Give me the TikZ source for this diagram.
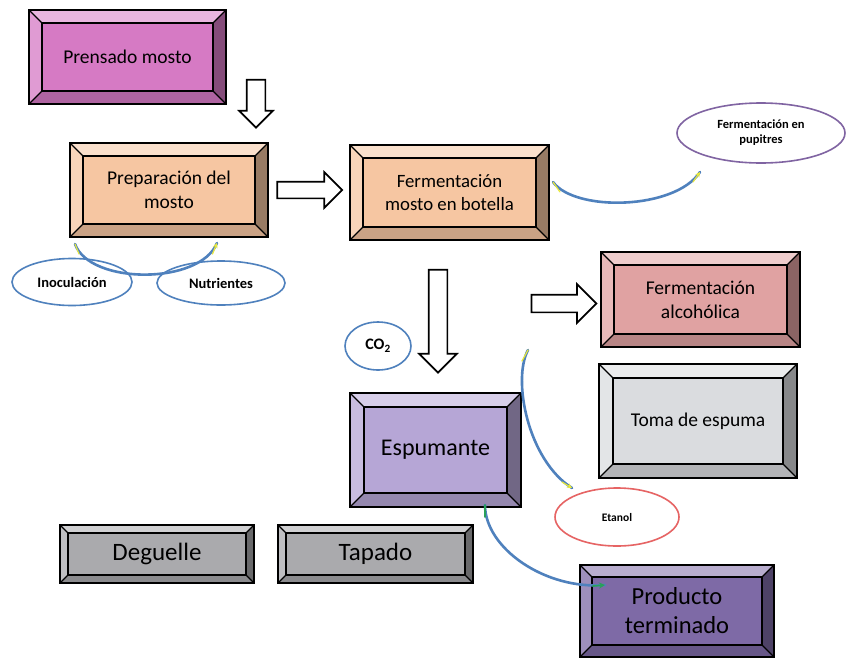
\documentclass[tikz,border=0pt]{standalone}
\usepackage{fontspec}
\setmainfont{Carlito}
\usetikzlibrary{shapes.geometric,shapes.arrows,calc,arrows.meta}
\definecolor{cPink}{RGB}{214,122,196}
\definecolor{cPeach}{RGB}{246,198,162}
\definecolor{cRose}{RGB}{224,162,162}
\definecolor{cLight}{RGB}{218,220,223}
\definecolor{cLav}{RGB}{182,166,214}
\definecolor{cGrey}{RGB}{170,170,173}
\definecolor{cDark}{RGB}{126,106,166}
\definecolor{cBlue}{RGB}{79,129,189}
\definecolor{cPurp}{RGB}{128,100,162}
\definecolor{cRed}{RGB}{230,100,100}
\definecolor{cYel}{RGB}{232,232,60}
\definecolor{cGreen}{RGB}{40,160,90}
\def\bev{13pt}
\tikzset{
  bev/.code={\def\bev{#1}},
  bevbox/.style={rectangle, draw=black, line width=1.6pt, fill=#1, inner sep=0pt,
    align=center, text=black,
    path picture={
      \coordinate (ppnw) at (path picture bounding box.north west);
      \coordinate (ppne) at (path picture bounding box.north east);
      \coordinate (ppsw) at (path picture bounding box.south west);
      \coordinate (ppse) at (path picture bounding box.south east);
      \fill[#1!55!white] (ppnw) -- (ppne) -- ($(ppne)+(-\bev,-\bev)$) -- ($(ppnw)+(\bev,-\bev)$) -- cycle;
      \fill[#1!75!white] (ppnw) -- (ppsw) -- ($(ppsw)+(\bev,\bev)$) -- ($(ppnw)+(\bev,-\bev)$) -- cycle;
      \fill[#1!82!black] (ppsw) -- (ppse) -- ($(ppse)+(-\bev,\bev)$) -- ($(ppsw)+(\bev,\bev)$) -- cycle;
      \fill[#1!62!black] (ppne) -- (ppse) -- ($(ppse)+(-\bev,\bev)$) -- ($(ppne)+(-\bev,-\bev)$) -- cycle;
      \draw[black, line width=1.4pt] ($(ppnw)+(\bev,-\bev)$) rectangle ($(ppse)+(-\bev,\bev)$);
      \draw[black, line width=1.2pt] (ppnw) -- ++(\bev,-\bev) (ppne) -- ++(-\bev,-\bev)
        (ppsw) -- ++(\bev,\bev) (ppse) -- ++(-\bev,\bev);
    }},
  ell/.style={ellipse, draw=#1, line width=1.6pt, fill=white, inner sep=0pt, align=center,
    font=\bfseries},
  blockarrow/.style={single arrow, draw=black, fill=white, line width=1.7pt, inner sep=0pt,
    single arrow head indent=0pt},
  curv/.style={draw=cBlue, line width=2.6pt, line cap=round},
  ytip/.style={draw=cYel, line width=1.2pt, line cap=round},
  gtip/.style={draw=cGreen, line width=1.7pt, line cap=round}
}
\begin{document}
\begin{tikzpicture}[x=1pt,y=-1pt]
\useasboundingbox (0,0) rectangle (865,659);
\fill[white] (0,0) rectangle (865,659);

% boxes
\node[bevbox=cPink, minimum width=197pt, minimum height=94pt, font=\fontsize{19.5}{23}\selectfont] (prensado) at (127.5,57) {Prensado mosto};
\node[bevbox=cPeach, minimum width=198pt, minimum height=94pt, font=\fontsize{19.5}{24}\selectfont] (prep) at (169,190) {Preparación del\\mosto};
\node[bevbox=cPeach, minimum width=199pt, minimum height=95pt, font=\fontsize{18.8}{23}\selectfont] (fbot) at (449.5,192.5) {Fermentación\\mosto en botella};
\node[bevbox=cRose, minimum width=199pt, minimum height=95pt, font=\fontsize{19.5}{24}\selectfont] (falc) at (700.5,299.5) {Fermentación\\alcohólica};
\node[bevbox=cLight, minimum width=198pt, minimum height=114pt, bev=14pt, font=\fontsize{19.5}{23}\selectfont] (toma) at (698,421) {Toma de espuma};
\node[bevbox=cLav, minimum width=171pt, minimum height=114pt, bev=14pt, font=\fontsize{24}{28}\selectfont] (esp) at (435.5,450) {Espumante};
\node[bevbox=cGrey, minimum width=194pt, minimum height=58pt, bev=8pt, font=\fontsize{25}{29}\selectfont] (deg) at (157,554) {Deguelle};
\node[bevbox=cGrey, minimum width=195pt, minimum height=58pt, bev=8pt, font=\fontsize{25}{29}\selectfont] (tap) at (375.5,554) {Tapado};
\node[bevbox=cDark, minimum width=194pt, minimum height=92pt, bev=12pt, font=\fontsize{24.5}{29}\selectfont] (prod) at (677,611) {Producto\\terminado};

% ellipses
\node[ell=cBlue, minimum width=120pt, minimum height=47pt, font=\bfseries\fontsize{14.5}{17}\selectfont] (inoc) at (72,282) {Inoculación};
\node[ell=cBlue, minimum width=128pt, minimum height=44pt, font=\bfseries\fontsize{14.5}{17}\selectfont] (nutr) at (221,283) {Nutrientes};
\node[ell=cPurp, minimum width=168pt, minimum height=60pt, font=\bfseries\fontsize{12.5}{15}\selectfont] (pup) at (761,133) {Fermentación en\\pupitres};
\node[ell=cBlue, minimum width=66pt, minimum height=48pt, font=\bfseries\fontsize{16}{18}\selectfont] (co2) at (378,346) {CO\textsubscript{2}};
\node[ell=cRed, minimum width=124pt, minimum height=58pt, font=\bfseries\fontsize{11.5}{13}\selectfont] (etanol) at (617,517) {Etanol};

% block arrows
\node[blockarrow, minimum height=48pt, inner ysep=8.5pt, single arrow head extend=7.5pt, rotate=-90] (a1) at (256,99) {};
\node[blockarrow, minimum height=65pt, inner ysep=7.5pt, single arrow head extend=9.5pt] (a2) at (305.5,190) {};
\node[blockarrow, minimum height=103pt, inner ysep=8.5pt, single arrow head extend=9.5pt, rotate=-90] (a3) at (438,316.5) {};
\node[blockarrow, minimum height=65pt, inner ysep=8pt, single arrow head extend=10.5pt] (a4) at (559.5,303.5) {};

% curved connectors
\coordinate (c1a) at (75,244);
\coordinate (c1b) at (217,243);
\draw[curv] (c1a) .. controls (90,285) and (200,285) .. (c1b);
\draw[ytip] (79,254) -- (c1a);
\draw[ytip,-{Stealth[length=5pt,width=5pt]}] (212.5,254) -- (c1b);

\coordinate (c2a) at (553,182);
\coordinate (c2b) at (700,172);
\draw[curv] (c2a) .. controls (575,212) and (675,210) .. (c2b);
\draw[ytip] (560,192) -- (c2a);
\draw[ytip,-{Stealth[length=5pt,width=5pt]}] (693,182) -- (c2b);

\coordinate (c3a) at (528,350);
\coordinate (c3b) at (572,488);
\draw[curv] (c3a) .. controls (512,380) and (528,460) .. (c3b);
\draw[ytip] (522,361) -- (c3a);
\draw[ytip,-{Stealth[length=5pt,width=5pt]}] (562,482) -- (c3b);

\coordinate (c4a) at (485,505);
\coordinate (c4b) at (605,585);
\draw[curv] (c4a) .. controls (485,548) and (545,590) .. (c4b);
\draw[gtip] (485,517) -- (c4a);
\draw[gtip,-{Stealth[length=6pt,width=6pt]}] (593,586) -- (c4b);
\end{tikzpicture}
\end{document}
